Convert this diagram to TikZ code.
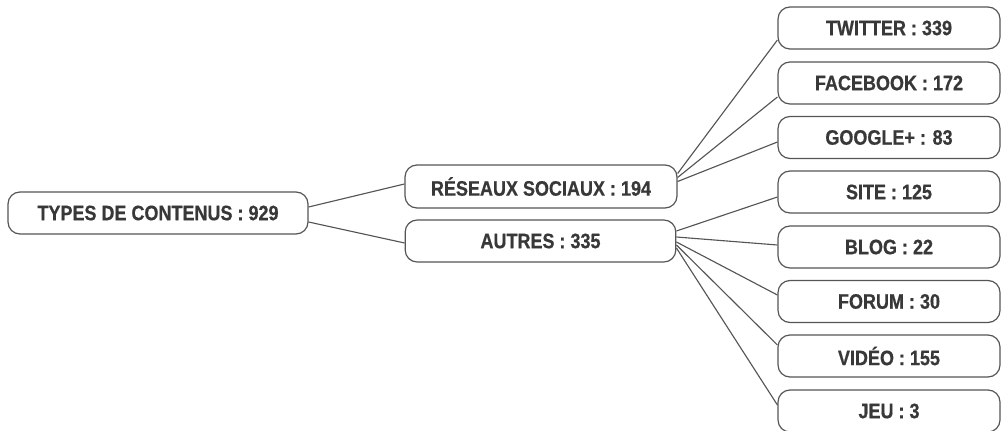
\documentclass[tikz,border=0pt]{standalone}
\usepackage{fontspec}
\setmainfont{Liberation Sans}[FakeStretch=0.86,FakeBold=0.6]
\usetikzlibrary{calc}
\definecolor{txt}{HTML}{383838}
\definecolor{edge}{HTML}{555555}
\begin{document}
\begin{tikzpicture}[x=0.75pt,y=-0.75pt,
  box/.style={draw=edge,line width=0.9pt,rounded corners=9pt,text=txt,
    font=\fontsize{15.7}{18}\selectfont\bfseries,inner sep=0pt,
    minimum height=31.5pt},
  leaf/.style={box,minimum width=166.5pt},
  conn/.style={draw=edge,line width=0.85pt}]
\useasboundingbox (0,0) rectangle (1002,431);
\node[box,minimum width=225pt] (root) at (158,213) {TYPES DE CONTENUS : 929};
\node[box,minimum width=204pt,minimum height=32.25pt] (res) at (541,186.5) {RÉSEAUX SOCIAUX : 194};
\node[box,minimum width=203pt] (aut) at (540.5,241) {AUTRES : 335};
\node[leaf] (tw) at (889,28) {TWITTER : 339};
\node[leaf] (fb) at (889,83) {FACEBOOK : 172};
\node[leaf] (gg) at (889,137.5) {GOOGLE+ : 83};
\node[leaf] (si) at (889,192) {SITE : 125};
\node[leaf] (bl) at (889,247) {BLOG : 22};
\node[leaf] (fo) at (889,301.5) {FORUM : 30};
\node[leaf] (vi) at (889,356) {VIDÉO : 155};
\node[leaf] (je) at (889,411) {JEU : 3};
\draw[conn] ($(root.east)+(0,-6)$) -- ($(res.west)+(0,-2.5)$);
\draw[conn] ($(root.east)+(0,9)$) -- ($(aut.west)+(0,2)$);
\draw[conn] ($(res.east)+(0,-13)$) -- ($(tw.west)+(0,12)$);
\draw[conn] ($(res.east)+(0,-9)$) -- ($(fb.west)+(0,14)$);
\draw[conn] ($(res.east)+(0,-5)$) -- ($(gg.west)+(0,4.5)$);
\draw[conn] ($(aut.east)+(0,-10)$) -- ($(si.west)+(0,5)$);
\draw[conn] ($(aut.east)+(0,-4)$) -- ($(bl.west)+(0,-2)$);
\draw[conn] ($(aut.east)+(0,1)$) -- ($(fo.west)+(0,-6.5)$);
\draw[conn] ($(aut.east)+(0,4)$) -- ($(vi.west)+(0,-11)$);
\draw[conn] ($(aut.east)+(0,7)$) -- ($(je.west)+(0,-6)$);
\end{tikzpicture}
\end{document}
